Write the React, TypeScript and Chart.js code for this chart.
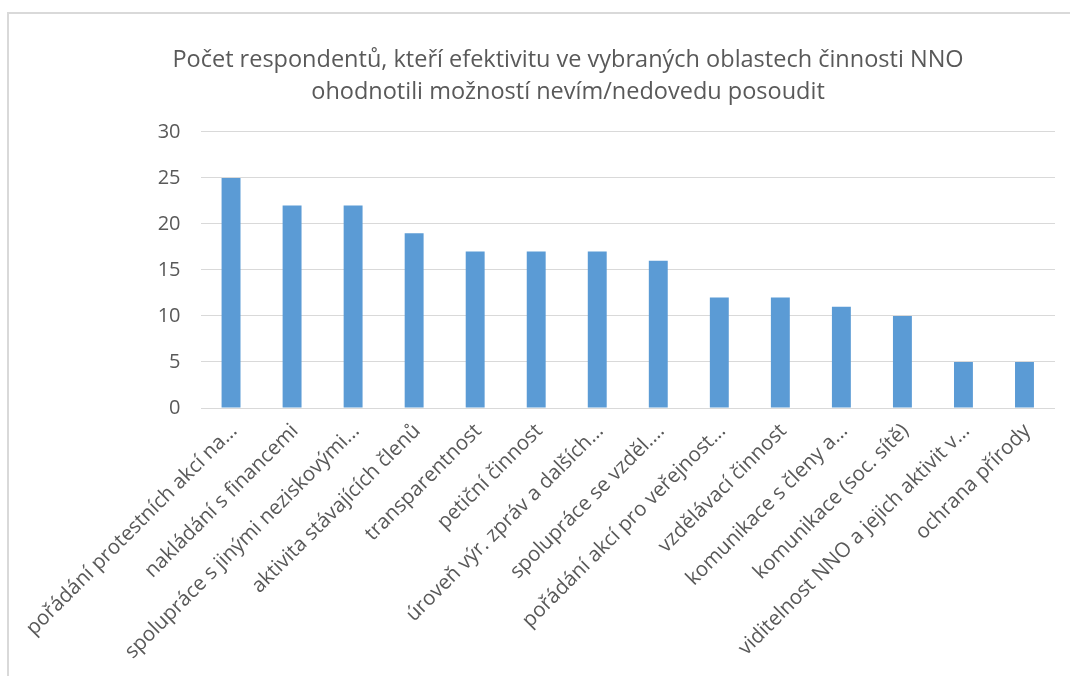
import React, { useEffect, useRef } from "react";
import { Chart, registerables } from "chart.js";

Chart.register(...registerables);

const titleLines = [
  "Počet respondentů, kteří efektivitu ve vybraných oblastech činnosti NNO",
  "ohodnotili možností nevím/nedovedu posoudit",
];

const categories = [
  "pořádání protestních akcí na...",
  "nakládání s financemi",
  "spolupráce s jinými neziskovými...",
  "aktivita stávajících členů",
  "transparentnost",
  "petiční činnost",
  "úroveň výr. zpráv a dalších...",
  "spolupráce se vzděl....",
  "pořádání akcí pro veřejnost...",
  "vzdělávací činnost",
  "komunikace s členy a...",
  "komunikace (soc. sítě)",
  "viditelnost NNO a jejich aktivit v...",
  "ochrana přírody",
];

const respondents = [25, 22, 22, 19, 17, 17, 17, 16, 12, 12, 11, 10, 5, 5];

const yMin = 0;
const yMax = 30;
const yStep = 5;

export default function App() {
  const canvasRef = useRef<HTMLCanvasElement | null>(null);

  useEffect(() => {
    if (!canvasRef.current) return;
    const chart = new Chart(canvasRef.current, {
      type: "bar",
      data: {
        labels: categories,
        datasets: [
          {
            label: "Počet respondentů",
            data: respondents,
            backgroundColor: "#5b9bd5",
            borderColor: "#5b9bd5",
            borderWidth: 0,
            categoryPercentage: 1,
            barPercentage: 0.31,
          },
        ],
      },
      options: {
        responsive: false,
        animation: false,
        layout: { padding: { left: 72, right: 15, top: 0, bottom: 0 } },
        plugins: {
          legend: { display: false },
          tooltip: { enabled: false },
          title: {
            display: true,
            text: titleLines,
            color: "#595959",
            font: { family: "Open Sans", size: 23.5, weight: "normal", lineHeight: 1.36 },
            padding: { top: 30, bottom: 24 },
          },
        },
        scales: {
          x: {
            grid: { display: false, drawTicks: false },
            border: { display: false },
            ticks: {
              color: "#595959",
              font: { family: "Open Sans", size: 20.5 },
              minRotation: 45,
              maxRotation: 45,
              autoSkip: false,
              labelOffset: 3,
              padding: 11,
            },
            afterFit: (scale: any) => {
              scale.height = 268;
            },
          },
          y: {
            min: yMin,
            max: yMax,
            grid: { color: "#d9d9d9", lineWidth: 1, drawTicks: false },
            border: { display: false },
            ticks: {
              stepSize: yStep,
              color: "#595959",
              font: { family: "Open Sans", size: 20 },
              padding: 20,
            },
            afterFit: (scale: any) => {
              scale.width = 118;
            },
          },
        },
      },
    });
    return () => chart.destroy();
  }, []);

  return (
    <div
      style={{
        position: "absolute",
        left: 7,
        top: 12,
        width: 1063,
        height: 664,
        overflow: "hidden",
        borderLeft: "2px solid #d9d9d9",
        borderTop: "2px solid #d9d9d9",
        background: "#ffffff",
      }}
    >
      <canvas ref={canvasRef} width={1061} height={662} style={{ display: "block" }} />
    </div>
  );
}
